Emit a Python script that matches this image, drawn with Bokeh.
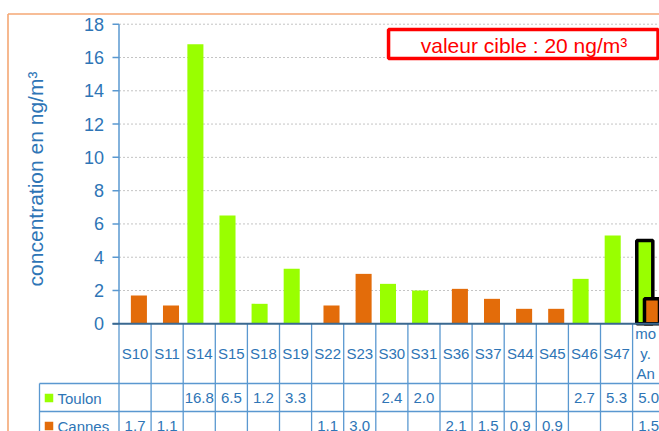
import math
from bokeh.plotting import figure
from bokeh.models import Range1d, ColumnDataSource
from bokeh.core.properties import value
from bokeh.embed import file_html
from bokeh.resources import INLINE

# ---------------- data ----------------
categories = ["S10", "S11", "S14", "S15", "S18", "S19", "S22", "S23", "S30",
              "S31", "S36", "S37", "S44", "S45", "S46", "S47", "moy. An."]
cat_labels = ["S10", "S11", "S14", "S15", "S18", "S19", "S22", "S23", "S30",
              "S31", "S36", "S37", "S44", "S45", "S46", "S47", "mo\ny.\nAn"]
toulon = [None, None, 16.8, 6.5, 1.2, 3.3, None, None, 2.4, 2.0,
          None, None, None, None, 2.7, 5.3, 5.0]
cannes = [1.7, 1.1, None, None, None, None, 1.1, 3.0, None, None,
          2.1, 1.5, 0.9, 0.9, None, None, 1.5]
series_names = ["Toulon", "Cannes"]
y_ticks = [0, 2, 4, 6, 8, 10, 12, 14, 16, 18]
y_label = "concentration en ng/m\u00b3"
target_label = "valeur cible : 20 ng/m\u00b3"

# ---------------- styles / geometry ----------------
FONT = value("Liberation Sans")
BLUE_TEXT = "#2E75B6"
LINE_BLUE = "#5A98D0"
AXIS_DARK = "#3A6890"
GREEN = "#99FF00"
ORANGE = "#E36C0A"
BORDER = "#F4A774"
GRID = "#C4C4C4"
RED = "#FF0000"

W, H = 659, 431
X0, CW = 118.5, 32.1      # picture x of first category boundary, px per category
Y0, PU = 323.3, 16.644    # picture y of value 0, px per unit


def X(px):
    return (px - X0) / CW


def Y(py):
    return (Y0 - py) / PU


p = figure(width=W, height=H, x_range=Range1d(X(0), X(W)),
           y_range=Range1d(Y(H), Y(0)), output_backend="svg",
           toolbar_location=None, min_border=0,
           x_axis_type=None, y_axis_type=None)
p.outline_line_color = None
p.background_fill_color = "white"
p.border_fill_color = "white"

n = len(categories)
XR = X(W + 2)
YB = Y(H + 2)

# outer chart border (orange)
p.segment(x0=[X(7.5), X(7.5)], y0=[Y(13.5), Y(13.5)], x1=[XR, X(7.5)], y1=[Y(13.5), YB],
          line_color=BORDER, line_width=1.6)

# gridlines
gt = y_ticks[1:]
p.segment(x0=[0] * len(gt), y0=gt, x1=[XR] * len(gt), y1=gt,
          line_color=GRID, line_width=1, line_dash="2 2")

# bars
off = 0.12
bw = 0.5
tx = [i + 0.5 - off for i, v in enumerate(toulon) if v is not None and i < n - 1]
tv = [v for i, v in enumerate(toulon) if v is not None and i < n - 1]
cx = [i + 0.5 + off for i, v in enumerate(cannes) if v is not None and i < n - 1]
cv = [v for i, v in enumerate(cannes) if v is not None and i < n - 1]
p.vbar(x=tx, top=tv, bottom=0, width=bw, fill_color=GREEN, line_color=None)
p.vbar(x=cx, top=cv, bottom=0, width=bw, fill_color=ORANGE, line_color=None)
p.vbar(x=[n - 1 + 0.5 - off], top=[toulon[-1]], bottom=0, width=bw,
       fill_color=GREEN, line_color="black", line_width=3.5)
p.vbar(x=[n - 1 + 0.5 + off], top=[cannes[-1]], bottom=0, width=bw,
       fill_color=ORANGE, line_color="black", line_width=3.5)

# y axis line, ticks and labels
p.segment(x0=[0], y0=[y_ticks[-1]], x1=[0], y1=[0], line_color=LINE_BLUE, line_width=1.5)
p.segment(x0=[X(112)] * len(y_ticks), y0=y_ticks, x1=[0] * len(y_ticks), y1=y_ticks,
          line_color=LINE_BLUE, line_width=1.5)
p.text(x=[X(103.5)] * len(y_ticks), y=y_ticks, text=[str(t) for t in y_ticks],
       text_align="right", text_baseline="middle", text_font=FONT,
       text_font_size="18px", text_color=BLUE_TEXT)
p.text(x=[X(34.5)], y=[Y(178.5)], text=[y_label], angle=math.pi / 2,
       text_align="center", text_baseline="middle", text_font=FONT,
       text_font_size="21px", text_color=BLUE_TEXT)

# data table
r1, r2 = Y(383), Y(411)
vx = list(range(n + 1))
p.segment(x0=vx, y0=[0] * len(vx), x1=vx, y1=[YB] * len(vx),
          line_color=LINE_BLUE, line_width=1.3)
p.segment(x0=[X(39), X(39)], y0=[r1, r2], x1=[XR, XR], y1=[r1, r2],
          line_color=LINE_BLUE, line_width=1.3)
p.segment(x0=[X(39)], y0=[r1], x1=[X(39)], y1=[YB], line_color=LINE_BLUE, line_width=1.3)
# x axis line
p.segment(x0=[X(112)], y0=[0], x1=[XR], y1=[0], line_color=AXIS_DARK, line_width=2)

hsrc = ColumnDataSource(dict(x=[i + 0.5 for i in range(n)], y=[Y(353)] * n,
                             text=cat_labels, xo=[0] * (n - 1) + [-3]))
p.text(x="x", y="y", text="text", x_offset="xo", source=hsrc,
       text_align="center", text_baseline="middle", text_font=FONT,
       text_font_size="15px", text_color=BLUE_TEXT, text_line_height=1.15)

row_y = [Y(397.5), Y(425.5)]
for vals, ry in zip([toulon, cannes], row_y):
    xs = [i + 0.5 for i, v in enumerate(vals) if v is not None]
    ts = ["%.1f" % v for v in vals if v is not None]
    p.text(x=xs, y=[ry] * len(xs), text=ts, text_align="center",
           text_baseline="middle", text_font=FONT, text_font_size="15px",
           text_color=BLUE_TEXT)

# legend keys in table
p.rect(x=[X(48.5)] * 2, y=row_y, width=8.5, height=8.5, width_units="screen",
       height_units="screen", fill_color=[GREEN, ORANGE], line_color=None)
p.text(x=[X(57)] * 2, y=row_y, text=series_names, text_align="left",
       text_baseline="middle", text_font=FONT, text_font_size="15px",
       text_color=BLUE_TEXT)

# target value box
p.rect(x=[X(522.8)], y=[Y(43.5)], width=269.5, height=29, width_units="screen",
       height_units="screen", fill_color="white", line_color=RED, line_width=3.5)
p.text(x=[X(523.5)], y=[Y(44.5)], text=[target_label], text_align="center",
       text_baseline="middle", text_font=FONT, text_font_size="21px",
       text_color=RED)

open("out.html", "w").write(file_html(p, INLINE))
